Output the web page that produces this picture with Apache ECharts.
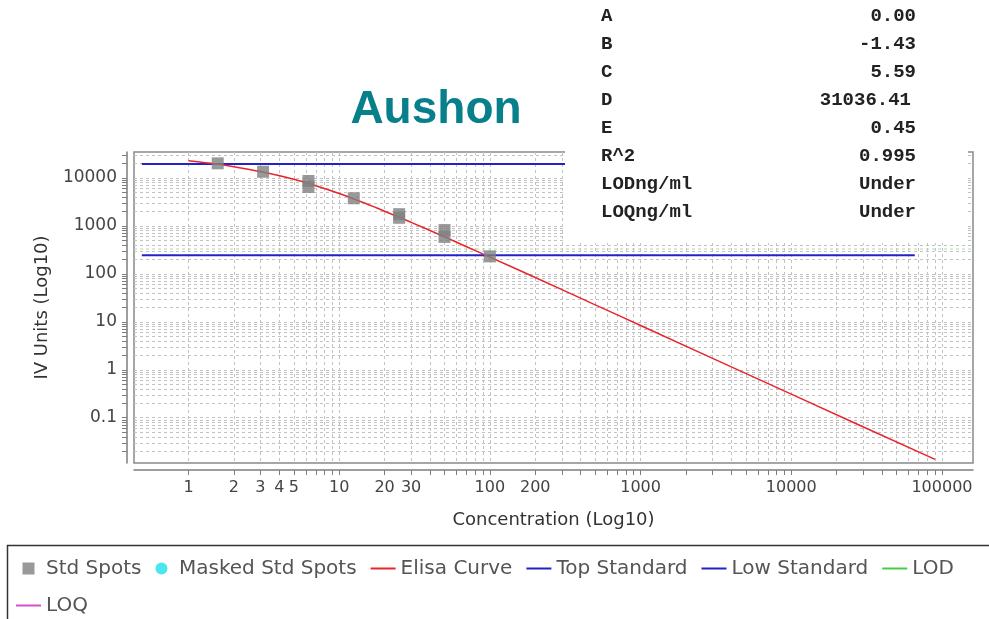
<!DOCTYPE html>
<html><head><meta charset="utf-8">
<script src="https://cdn.jsdelivr.net/npm/echarts@6/dist/echarts.min.js"></script>
<style>html,body{margin:0;padding:0;background:#fff;}#c{width:989px;height:619px;}</style>
</head><body><div id="c"></div>
<script>
// ---- data ----
const stdConc = [1.5625, 3.125, 6.25, 6.25, 12.5, 25, 25, 50, 50, 100];
const stdIV = [20200, 13500, 8650, 6500, 3780, 1760, 1480, 820, 590, 232];
const maskedConc = [];
const maskedIV = [];
const curveConc = [1, 1.5, 2, 3, 5, 7, 10, 15, 20, 30, 50, 70, 100, 200, 500, 1000, 10000, 90000];
const curveIV = [23000, 19800, 17200, 13600, 9400, 6900, 4750, 2930, 2030, 1190, 592, 369, 224, 84, 22.6, 8.4, 0.31, 0.0135];
const topStdConc = [0.49, 66000];
const topStdIV = [19600, 19600];
const lowStdConc = [0.49, 66000];
const lowStdIV = [245, 245];
const lodConc = [0.435, 160000];
const lodIV = [330, 330];
const loqConc = [];
const loqIV = [];
const xLabelValues = [1, 2, 3, 4, 5, 10, 20, 30, 100, 200, 1000, 10000, 100000];
const yLabelValues = [0.1, 1, 10, 100, 1000, 10000];
const paramNames = ['A', 'B', 'C', 'D', 'E', 'R^2', 'LODng/ml', 'LOQng/ml'];
const paramValues = ['0.00', '-1.43', '5.59', '31036.41', '0.45', '0.995', 'Under', 'Under'];
const titleText = 'Aushon';

// ---- helpers ----
const lg = v => Math.log10(v);
const pairs = (xs, ys) => xs.map((x, i) => [lg(x), lg(ys[i])]);
const fmt = v => String(parseFloat(Math.pow(10, v).toPrecision(6)));
const X_MIN = -0.3617, X_MAX = 5.206, Y_MIN = -1.944, Y_MAX = 4.542;
function minorTicks(d0, d1, lo, hi) {
  const out = [];
  for (let d = d0; d <= d1; d++) for (let k = 1; k <= 9; k++) {
    const v = lg(k) + d;
    if (v >= lo && v <= hi) out.push(v);
  }
  return out;
}
const xTicks = minorTicks(0, 5, -0.0001, lg(100000) + 0.0001);
const yTicks = minorTicks(-2, 4, Y_MIN, Y_MAX);

const FONT = 'DejaVu Sans';
const axisCol = '#7d7d7d';
const gridLine = { show: true, lineStyle: { color: '#c2c2c2', type: [3, 3], width: 1 } };
const LINE_ICON = 'path://M0 0H25V2H0Z';
const SQUARE_ICON = 'path://M0 0H10V10H0Z';

const chart = echarts.init(document.getElementById('c'), null, { renderer: 'canvas' });
const tableGraphics = [];
const rowY = [15, 43, 71, 99, 127, 155, 183, 211];
paramNames.forEach((n, i) => {
  tableGraphics.push({ type: 'text', z: 101, x: 601, y: rowY[i] + 1,
    style: { text: n, fill: '#222', font: 'bold 19px "Liberation Mono"', textAlign: 'left', textVerticalAlign: 'middle' } });
  tableGraphics.push({ type: 'text', z: 101, x: i === 3 ? 911 : 916, y: rowY[i] + 1,
    style: { text: paramValues[i], fill: '#222', font: 'bold 19px "Liberation Mono"', textAlign: 'right', textVerticalAlign: 'middle' } });
});

chart.setOption({
  animation: false,
  backgroundColor: '#fff',
  grid: { left: 134, right: 16, top: 152, bottom: 156, show: true, borderColor: '#8a8a8a', borderWidth: 1.5, backgroundColor: '#fff' },
  xAxis: {
    type: 'value', min: X_MIN, max: X_MAX, offset: 7,
    name: 'Concentration (Log10)', nameLocation: 'middle', nameGap: 41,
    nameTextStyle: { fontSize: 18, color: '#333', fontFamily: FONT },
    axisLine: { show: true, onZero: false, lineStyle: { color: axisCol, width: 1.5 } },
    axisTick: { show: true, customValues: xTicks, length: 5, lineStyle: { color: axisCol } },
    axisLabel: { customValues: xLabelValues.map(lg), formatter: fmt, fontSize: 16, color: '#444', margin: 10, fontFamily: FONT },
    splitLine: gridLine
  },
  yAxis: {
    type: 'value', min: Y_MIN, max: Y_MAX, offset: 7,
    name: 'IV Units (Log10)', nameLocation: 'middle', nameGap: 76,
    nameTextStyle: { fontSize: 18, color: '#333', fontFamily: FONT },
    axisLine: { show: true, onZero: false, lineStyle: { color: axisCol, width: 1.5 } },
    axisTick: { show: true, customValues: yTicks, length: 5, lineStyle: { color: axisCol } },
    axisLabel: { customValues: yLabelValues.map(lg), formatter: fmt, fontSize: 17, color: '#444', margin: 10, fontFamily: FONT },
    splitLine: gridLine
  },
  legend: {
    left: 16, top: 557, width: 960, padding: 0,
    itemWidth: 25, itemHeight: 12, itemGap: 14,
    textStyle: { fontSize: 20, lineHeight: 23, color: '#555', fontFamily: FONT },
    data: [
      { name: 'Std Spots', icon: SQUARE_ICON },
      { name: 'Masked Std Spots', icon: 'circle' },
      { name: 'Elisa Curve', icon: LINE_ICON },
      { name: 'Top Standard', icon: LINE_ICON },
      { name: 'Low Standard', icon: LINE_ICON },
      { name: 'LOD', icon: LINE_ICON, itemStyle: { color: '#44cc44' } },
      { name: 'LOQ', icon: LINE_ICON }
    ]
  },
  graphic: [
    { type: 'rect', z: 100, shape: { x: 565, y: 0, width: 403, height: 243 }, style: { fill: '#fff' } },
    ...tableGraphics,
    { type: 'text', z: 101, x: 436, y: 110, style: { text: titleText, fill: '#08808c', font: 'bold 46px "Liberation Sans"', textAlign: 'center', textVerticalAlign: 'middle' } },
    { type: 'rect', z: 0, shape: { x: 7.5, y: 545.5, width: 1000, height: 100 }, style: { fill: 'none', stroke: '#333', lineWidth: 1.5 } }
  ],
  series: [
    { name: 'Top Standard', type: 'line', data: pairs(topStdConc, topStdIV), symbol: 'none', color: '#2222c8', lineStyle: { width: 2 }, z: 3, silent: true },
    { name: 'Low Standard', type: 'line', data: pairs(lowStdConc, lowStdIV), symbol: 'none', color: '#2222c8', lineStyle: { width: 2 }, z: 3, silent: true },
    { name: 'LOD', type: 'line', data: pairs(lodConc, lodIV), symbol: 'none', color: '#a8dca8', lineStyle: { width: 1, type: [3, 3] }, z: 2, silent: true },
    { name: 'LOQ', type: 'line', data: pairs(loqConc, loqIV), symbol: 'none', color: '#d050d0', lineStyle: { width: 1.5 }, silent: true },
    { name: 'Elisa Curve', type: 'line', data: pairs(curveConc, curveIV), symbol: 'none', color: '#e8262a', lineStyle: { width: 1.5 }, smooth: 0.25, z: 4, silent: true },
    { name: 'Std Spots', type: 'scatter', data: pairs(stdConc, stdIV), symbol: 'rect', symbolSize: 12, color: '#7f7f7f', z: 5, silent: true },
    { name: 'Masked Std Spots', type: 'scatter', data: pairs(maskedConc, maskedIV), symbol: 'circle', symbolSize: 12, color: '#1ee0ea', z: 5, silent: true }
  ]
});
</script>
</body></html>
